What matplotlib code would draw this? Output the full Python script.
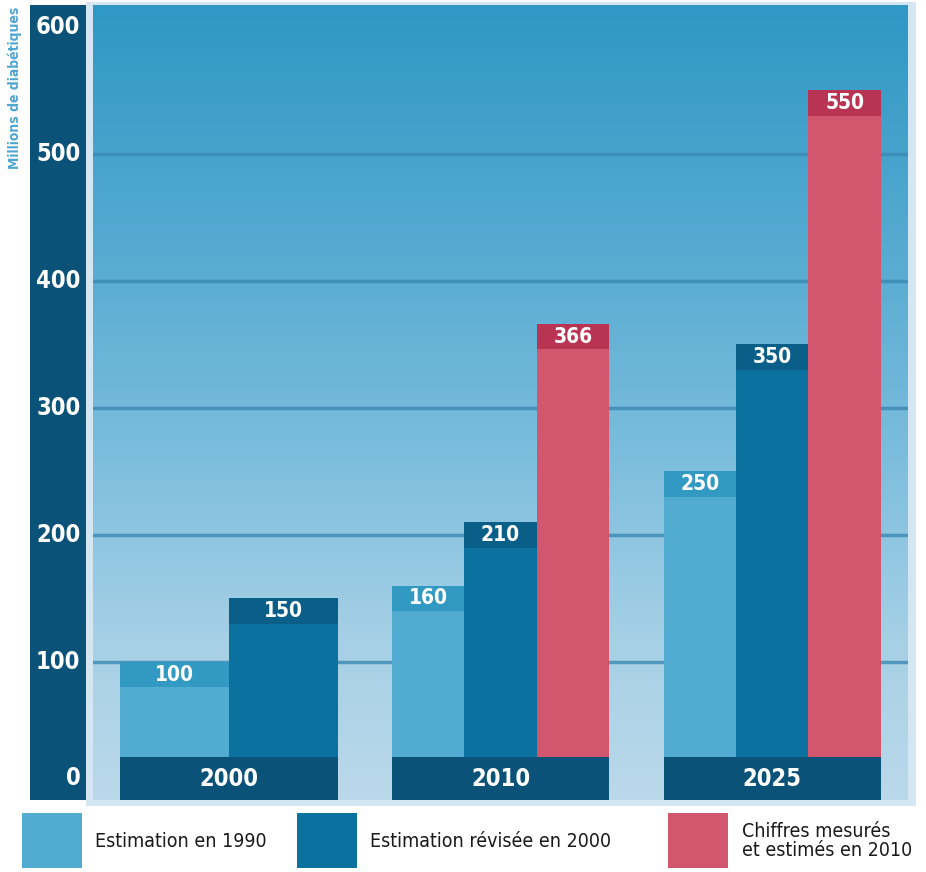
import numpy as np
import matplotlib.pyplot as plt
from matplotlib.colors import LinearSegmentedColormap
from matplotlib.patches import Rectangle

years = ["2000", "2010", "2025"]
est_1990 = [100, 160, 250]
est_2000 = [150, 210, 350]
mesures_2010 = [None, 366, 550]
series_labels = ["Estimation en 1990", "Estimation révisée en 2000",
                 "Chiffres mesurés\net estimés en 2010"]
yticks = [0, 100, 200, 300, 400, 500, 600]
ylabel = "Millions de diabétiques"

body_colors = ["#52acd2", "#0b729f", "#d3566f"]
band_colors = ["#3199c2", "#0a5f88", "#b93452"]
dark = "#0b5279"

FONT = "DejaVu Sans"
COND = "condensed"

fig = plt.figure(figsize=(9.26, 8.72), dpi=100)
W, H = 926, 872


def fig_axes(x0, y0, x1, y1):
    return fig.add_axes([x0 / W, 1 - y1 / H, (x1 - x0) / W, (y1 - y0) / H])


ymin, ymax = -8.7, 617

# light frame behind the plot
frame = fig_axes(86, 2, 916, 806)
frame.set_axis_off()
frame.add_patch(Rectangle((0, 0), 1, 1, transform=frame.transAxes,
                          color="#d3e6f1", zorder=0))

ax = fig_axes(93, 5, 908, 800)
ax.set_xlim(-0.5, 2.5)
ax.set_ylim(ymin, ymax)
ax.set_axis_off()

# vertical gradient background
bg = LinearSegmentedColormap.from_list(
    "bg", [(0, "#bad9ea"), (0.2, "#a6d0e6"), (0.45, "#79bcdc"),
           (0.7, "#55aad1"), (1, "#2f98c4")])
grad = np.linspace(0, 1, 256).reshape(-1, 1)
ax.imshow(grad, cmap=bg, origin="lower", aspect="auto",
          extent=[-0.5, 2.5, ymin, ymax], zorder=0)
for v in yticks[1:-1]:
    ax.axhline(v, color="#3a88b3", lw=2.5, alpha=0.8, zorder=1)

group_w = 0.8
band_h = 20
for i, year in enumerate(years):
    vals = [est_1990[i], est_2000[i], mesures_2010[i]]
    idx = [k for k, v in enumerate(vals) if v is not None]
    n = len(idx)
    bw = group_w / n
    for j, k in enumerate(idx):
        x0 = i - group_w / 2 + j * bw
        v = vals[k]
        ax.bar(x0, v, width=bw, align="edge", color=body_colors[k], zorder=2)
        ax.bar(x0, band_h, bottom=v - band_h, width=bw, align="edge",
               color=band_colors[k], zorder=3)
        ax.text(x0 + bw / 2, v - band_h / 2, str(v), ha="center", va="center",
                color="white", fontsize=15, fontweight="bold",
                family=FONT, fontstretch=COND, zorder=4)
    # category band at the bottom
    ax.bar(i - group_w / 2, 25 - ymin, bottom=ymin, width=group_w,
           align="edge", color=dark, zorder=5)
    ax.text(i, (25 + ymin) / 2, year, ha="center", va="center", color="white",
            fontsize=17, fontweight="bold", family=FONT, fontstretch=COND,
            zorder=6)

# dark y-axis strip
sx = fig_axes(30, 5, 86, 800)
sx.set_xlim(0, 1)
sx.set_ylim(ymin, ymax)
sx.set_axis_off()
sx.add_patch(Rectangle((0, 0), 1, 1, transform=sx.transAxes, color=dark))
for v in yticks:
    pos = v if v > 0 else 9
    sx.text(0.9, pos, str(v), ha="right", va="center", color="white",
            fontsize=17, fontweight="bold", family=FONT, fontstretch=COND)

fig.text(15 / W, 1 - 88 / H, ylabel, rotation=90, ha="center", va="center",
         color="#4fa6d2", fontsize=10, fontweight="bold", family=FONT,
         fontstretch=COND)

# legend
leg_x = [22, 297, 668]
leg_tx = [95, 370, 742]
for k in range(3):
    lx = fig_axes(leg_x[k], 813, leg_x[k] + 60, 868)
    lx.set_axis_off()
    lx.add_patch(Rectangle((0, 0), 1, 1, transform=lx.transAxes,
                           color=body_colors[k]))
    fig.text(leg_tx[k] / W, 1 - 841 / H, series_labels[k], ha="left",
             va="center", color="#1a1a1a", fontsize=14, family=FONT,
             fontstretch=COND, linespacing=1.05)

fig.savefig("out.png", dpi=100)
